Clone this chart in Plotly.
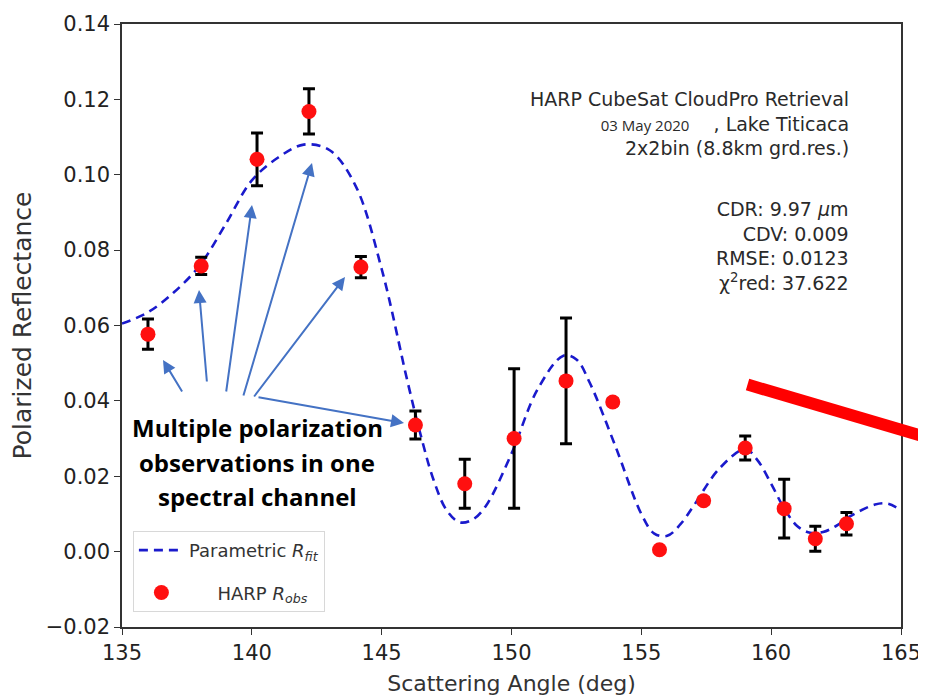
import plotly.graph_objects as go

# observed polarized reflectance (HARP)
obs_angle = [136.0, 138.05, 140.2, 142.2, 144.2, 146.3, 148.2, 150.1, 152.1,
             153.9, 155.7, 157.4, 159.0, 160.5, 161.7, 162.9]
obs_value = [0.0577, 0.0758, 0.1041, 0.1168, 0.0755, 0.0336, 0.0180, 0.0300, 0.0453,
             0.0397, 0.0005, 0.0135, 0.0275, 0.0114, 0.0034, 0.0074]
obs_error = [0.0040, 0.0023, 0.0070, 0.0060, 0.0028, 0.0037, 0.0065, 0.0185, 0.0167,
             0.0008, 0.0000, 0.0008, 0.0032, 0.0078, 0.0033, 0.0030]

# parametric fit
fit_angle = [135, 136, 137, 138, 139, 140, 141, 142, 143, 144, 145, 146, 146.5, 147,
             147.5, 148, 148.5, 149, 150, 151, 152, 152.5, 153, 154, 155, 155.5, 156,
             156.5, 157, 158, 159, 159.5, 160, 160.5, 161, 161.5, 162, 162.5, 163,
             164, 164.5, 165]
fit_value = [0.0605, 0.0635, 0.0688, 0.0760, 0.0870, 0.0985, 0.1045, 0.1080, 0.1065,
             0.0970, 0.0750, 0.0450, 0.0310, 0.0190, 0.0110, 0.0078, 0.0085, 0.0120,
             0.0260, 0.0430, 0.0520, 0.0510, 0.0450, 0.0280, 0.0100, 0.0048, 0.0042,
             0.0072, 0.0120, 0.0220, 0.0272, 0.0240, 0.0180, 0.0115, 0.0068, 0.0050,
             0.0052, 0.0068, 0.0092, 0.0125, 0.0127, 0.0110]

x_ticks = [135, 140, 145, 150, 155, 160, 165]
y_ticks = [-0.02, 0.00, 0.02, 0.04, 0.06, 0.08, 0.10, 0.12, 0.14]

info_head = ["HARP CubeSat CloudPro Retrieval",
             "<span style='font-family:Open Sans;font-size:15px'>03 May 2020</span>    , Lake Titicaca",
             "2x2bin (8.8km grd.res.)"]
info_stats = ["CDR: 9.97 <i>μ</i>m",
              "CDV: 0.009",
              "RMSE: 0.0123",
              "χ<sup>2</sup>red: 37.622"]

callout_lines = ["Multiple polarization", "observations in one", "spectral channel"]

FONT = "DejaVu Sans"
ARROW = "#4472C4"


def px_x(x):
    # screen pixel -> paper fraction (plot box 122..901)
    return (x - 122) / 779


def px_y(y):
    # screen pixel -> paper fraction (plot box 24..627)
    return (627 - y) / 603


fig = go.Figure()

fig.add_trace(go.Scatter(x=fit_angle, y=fit_value, mode='lines', line_shape='spline',
                         line=dict(color='#1a1acc', width=2.6, dash='9px,6px'),
                         legendgroup='fit',
                         name="Parametric <i>R<sub>fit</sub></i>"))

fig.add_trace(go.Scatter(x=obs_angle, y=obs_value, mode='markers',
                         marker=dict(color='#ff1010', size=15),
                         error_y=dict(type='data', array=obs_error, color='black',
                                      thickness=3, width=6),
                         legendgroup='obs',
                         name="     HARP <i>R<sub>obs</sub></i>"))

# page body adds an 8px offset, so margins are shifted to land the plot box at 122..901 / 24..627
fig.update_layout(
    width=926, height=698,
    margin=dict(l=114, r=33, t=16, b=79),
    plot_bgcolor='white', paper_bgcolor='white',
    font=dict(family=FONT, size=21, color='#222'),
    legend=dict(x=0.014, y=0.025, xanchor='left', yanchor='bottom',
                bgcolor='white', bordercolor='#d8d8d8', borderwidth=1,
                font=dict(size=18, color='#333'), tracegroupgap=16,
                itemwidth=45),
)

fig.update_xaxes(range=[135, 165], tickvals=x_ticks, showgrid=False, zeroline=False,
                 showline=True, linecolor='#333', linewidth=1.5, mirror=True,
                 ticks='outside', ticklen=6, tickcolor='#333', automargin=False,
                 tickfont=dict(size=21, color='#222'),
                 title=dict(text="Scattering Angle (deg)", font=dict(size=22, color='#333'),
                            standoff=12))
fig.update_yaxes(range=[-0.02, 0.14], tickvals=y_ticks, tickformat='.2f', showgrid=False,
                 zeroline=False, showline=True, linecolor='#333', linewidth=1.5, mirror=True,
                 ticks='outside', ticklen=6, tickcolor='#333', automargin=False,
                 tickfont=dict(size=21, color='#222'),
                 title=dict(text="Polarized Reflectance", font=dict(size=25, color='#333'),
                            standoff=14))

# info block, top right
fig.add_annotation(x=px_x(851), y=px_y(86), xref='paper', yref='paper', xanchor='right',
                   yanchor='top', text="<br>".join(info_head), showarrow=False, align='right',
                   font=dict(family=FONT, size=19, color='#2a2a2a'))
fig.add_annotation(x=px_x(851), y=px_y(196), xref='paper', yref='paper', xanchor='right',
                   yanchor='top', text="<br>".join(info_stats), showarrow=False, align='right',
                   font=dict(family=FONT, size=19, color='#2a2a2a'))

# callout text, one annotation per line for the wider line spacing
for line, ypix in zip(callout_lines, [427, 462, 496]):
    fig.add_annotation(x=px_x(257), y=px_y(ypix), xref='paper', yref='paper',
                       xanchor='center', yanchor='middle', text="<b>" + line + "</b>",
                       showarrow=False, font=dict(family="Open Sans", size=24, color='black'))

# arrows from callout to observations (tail, head in screen pixels)
arrow_pairs = [((183, 393), (163, 360)),
               ((207, 383), (199, 290)),
               ((226, 393), (252, 205)),
               ((243, 397), (312, 163)),
               ((253, 398), (345, 277)),
               ((257, 397), (404, 423))]
for (tx, ty), (hx, hy) in arrow_pairs:
    fig.add_annotation(x=px_x(hx), y=px_y(hy), xref='paper', yref='paper',
                       ax=tx - hx, ay=ty - hy, axref='pixel', ayref='pixel',
                       text="", showarrow=True, arrowhead=2, arrowsize=1.3, arrowwidth=2,
                       arrowcolor=ARROW, standoff=0)

# thick red line running off the right edge
fig.add_shape(type='line', xref='paper', yref='paper', x0=0.803, y0=0.402, x1=1.04, y1=0.312,
              line=dict(color='#ff0000', width=12))

fig.write_html("out.html")
